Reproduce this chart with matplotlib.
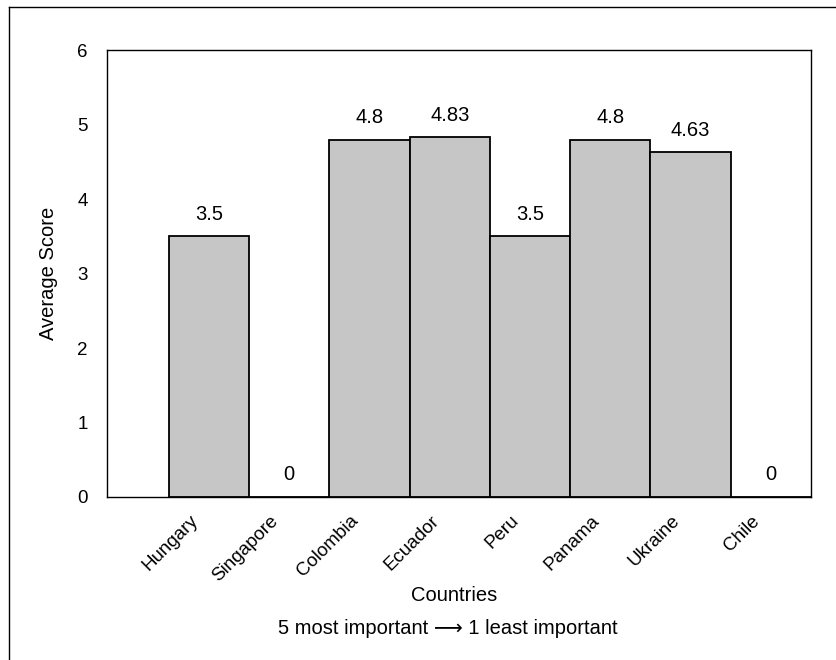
import numpy as np
import matplotlib.pyplot as plt
from matplotlib.lines import Line2D
import matplotlib.transforms as mtransforms

plt.rcParams['font.family'] = ['Liberation Sans', 'DejaVu Sans']

countries = ["Hungary", "Singapore", "Colombia", "Ecuador", "Peru", "Panama", "Ukraine", "Chile"]
scores = [3.5, 0, 4.8, 4.83, 3.5, 4.8, 4.63, 0]
score_labels = ["3.5", "0", "4.8", "4.83", "3.5", "4.8", "4.63", "0"]

fig = plt.figure(figsize=(8.36, 6.6), dpi=100)
ax = fig.add_axes([0.128, 0.247, 0.842, 0.677])

x = np.arange(len(countries))
ax.bar(x, scores, width=1.0, color="#c6c6c6", edgecolor="black", linewidth=1.3)

for xi, v, lab in zip(x, scores, score_labels):
    ax.annotate(lab, (xi, v), xytext=(0, 9), textcoords="offset points",
                ha="center", va="bottom", fontsize=14.5)

ax.set_xlim(-1.27, 7.5)
ax.set_ylim(0, 6)
ax.set_yticks(range(7))
ax.tick_params(axis="y", length=0, pad=14, labelsize=13.5)
ax.tick_params(axis="x", length=0, pad=11, labelsize=13.5)
ax.set_xticks(x)
ax.set_xticklabels(countries, rotation=45, ha="right", rotation_mode="anchor")
shift = mtransforms.ScaledTranslation(-14 / 72, 0, fig.dpi_scale_trans)
for t in ax.get_xticklabels():
    t.set_transform(t.get_transform() + shift)

for s in ax.spines.values():
    s.set_linewidth(1.0)

ax.set_ylabel("Average Score", fontsize=14.5, labelpad=14)
fig.text(0.543, 0.098, "Countries", ha="center", va="center", fontsize=14.5)
fig.text(0.536, 0.048, "5 most important \u27f6 1 least important",
         ha="center", va="center", fontsize=14.5)

# page frame lines (top and left only)
fig.add_artist(Line2D([9 / 836, 9 / 836], [0, 1 - 7 / 660], transform=fig.transFigure,
                      color="black", linewidth=1.0))
fig.add_artist(Line2D([9 / 836, 1], [1 - 7 / 660, 1 - 7 / 660], transform=fig.transFigure,
                      color="black", linewidth=1.0))

fig.savefig("out.png", dpi=100)
